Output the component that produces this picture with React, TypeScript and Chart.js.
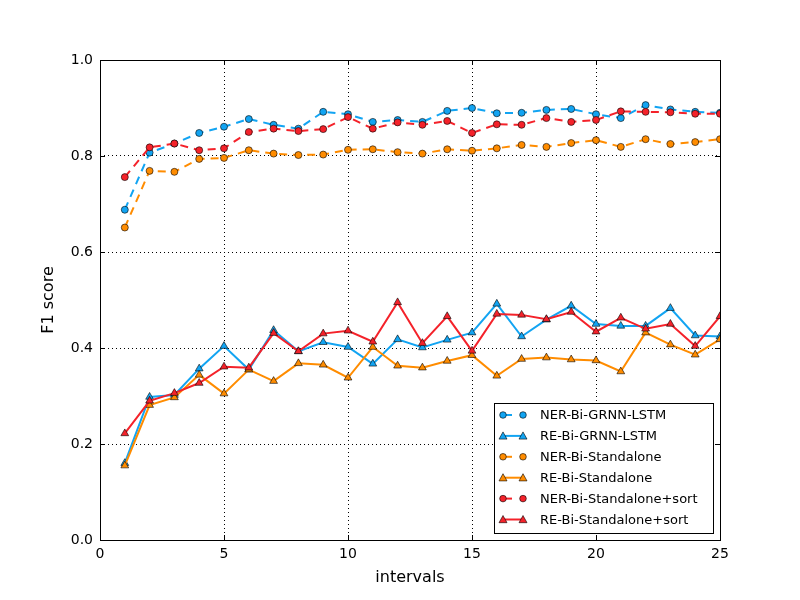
import React, { useEffect, useRef } from "react";
import { Chart, registerables } from "chart.js";
Chart.register(...registerables);

const intervals = [1, 2, 3, 4, 5, 6, 7, 8, 9, 10, 11, 12, 13, 14, 15, 16, 17, 18, 19, 20, 21, 22, 23, 24, 25];
const nerGrnn = [0.688, 0.807, 0.826, 0.848, 0.861, 0.877, 0.865, 0.857, 0.892, 0.887, 0.871, 0.875, 0.871, 0.894, 0.9, 0.889, 0.89, 0.896, 0.898, 0.887, 0.879, 0.906, 0.897, 0.892, 0.89];
const reGrnn = [0.16, 0.298, 0.302, 0.357, 0.404, 0.355, 0.437, 0.393, 0.412, 0.402, 0.367, 0.418, 0.401, 0.417, 0.432, 0.492, 0.424, 0.459, 0.488, 0.45, 0.446, 0.446, 0.483, 0.426, 0.424];
const nerSa = [0.651, 0.769, 0.767, 0.794, 0.796, 0.812, 0.805, 0.802, 0.803, 0.813, 0.814, 0.808, 0.805, 0.814, 0.811, 0.816, 0.823, 0.819, 0.827, 0.833, 0.819, 0.835, 0.825, 0.829, 0.835];
const reSa = [0.155, 0.281, 0.297, 0.344, 0.305, 0.355, 0.331, 0.368, 0.365, 0.338, 0.402, 0.363, 0.359, 0.373, 0.385, 0.342, 0.377, 0.38, 0.376, 0.374, 0.351, 0.432, 0.407, 0.386, 0.418];
const nerSort = [0.756, 0.818, 0.826, 0.812, 0.816, 0.85, 0.857, 0.852, 0.856, 0.881, 0.857, 0.87, 0.865, 0.873, 0.848, 0.866, 0.865, 0.879, 0.871, 0.875, 0.893, 0.892, 0.891, 0.888, 0.888];
const reSort = [0.222, 0.29, 0.306, 0.327, 0.361, 0.359, 0.431, 0.393, 0.43, 0.436, 0.413, 0.495, 0.41, 0.466, 0.394, 0.471, 0.469, 0.46, 0.475, 0.434, 0.463, 0.44, 0.45, 0.404, 0.466];

const seriesNames = [
  "NER-Bi-GRNN-LSTM",
  "RE-Bi-GRNN-LSTM",
  "NER-Bi-Standalone",
  "RE-Bi-Standalone",
  "NER-Bi-Standalone+sort",
  "RE-Bi-Standalone+sort",
];
const seriesValues = [nerGrnn, reGrnn, nerSa, reSa, nerSort, reSort];
const seriesColors = ["#12a4f2", "#12a4f2", "#ff8c00", "#ff8c00", "#f4222a", "#f4222a"];
const xTicks = [0, 5, 10, 15, 20, 25];
const yTicks = [0, 0.2, 0.4, 0.6, 0.8, 1.0];
const xTitle = "intervals";
const yTitle = "F1 score";

const FONT = "'DejaVu Sans', sans-serif";
const DASH = [8, 6];

const framePlugin = {
  id: "frame",
  afterDatasetsDraw(chart: any) {
    const { ctx, chartArea: a, scales } = chart;
    ctx.save();
    ctx.strokeStyle = "#000";
    ctx.lineWidth = 1;
    ctx.setLineDash([]);
    const tl = 5;
    ctx.beginPath();
    xTicks.forEach((t) => {
      const x = Math.round(scales.x.getPixelForValue(t)) + 0.5;
      ctx.moveTo(x, a.bottom);
      ctx.lineTo(x, a.bottom - tl);
      ctx.moveTo(x, a.top);
      ctx.lineTo(x, a.top + tl);
    });
    yTicks.forEach((t) => {
      const y = Math.round(scales.y.getPixelForValue(t)) + 0.5;
      ctx.moveTo(a.left, y);
      ctx.lineTo(a.left + tl, y);
      ctx.moveTo(a.right, y);
      ctx.lineTo(a.right - tl, y);
    });
    ctx.stroke();
    ctx.strokeRect(Math.round(a.left) + 0.5, Math.round(a.top) + 0.5, Math.round(a.right - a.left), Math.round(a.bottom - a.top));
    // axis titles
    ctx.fillStyle = "#000";
    ctx.font = `16px ${FONT}`;
    ctx.textAlign = "center";
    ctx.textBaseline = "middle";
    ctx.fillText(xTitle, (a.left + a.right) / 2, 578);
    ctx.save();
    ctx.translate(49, (a.top + a.bottom) / 2);
    ctx.rotate(-Math.PI / 2);
    ctx.fillText(yTitle, 0, 0);
    ctx.restore();
    ctx.restore();
  },
  afterDraw(chart: any) {
    const { ctx } = chart;
    ctx.save();
    const bx = 494.5, by = 403.5, bw = 219, bh = 130;
    ctx.fillStyle = "#fff";
    ctx.fillRect(bx, by, bw, bh);
    ctx.strokeStyle = "#000";
    ctx.lineWidth = 1;
    ctx.setLineDash([]);
    ctx.strokeRect(bx, by, bw, bh);
    const rowY0 = 415;
    const rowStep = 20.9;
    ctx.font = `13px ${FONT}`;
    ctx.textBaseline = "middle";
    ctx.textAlign = "left";
    seriesNames.forEach((name, i) => {
      const y = rowY0 + i * rowStep;
      const col = seriesColors[i];
      const isNer = i % 2 === 0;
      ctx.strokeStyle = col;
      ctx.lineWidth = 2;
      if (isNer) {
        ctx.setLineDash([]);
        ctx.beginPath();
        ctx.moveTo(503, y);
        ctx.lineTo(512, y);
        ctx.stroke();
      } else {
        ctx.setLineDash([]);
        ctx.beginPath();
        ctx.moveTo(503, y);
        ctx.lineTo(523, y);
        ctx.stroke();
      }
      ctx.setLineDash([]);
      [503, 523].forEach((mx) => {
        ctx.fillStyle = col;
        ctx.strokeStyle = "rgba(0,0,0,0.85)";
        ctx.lineWidth = 0.7;
        ctx.beginPath();
        if (isNer) {
          ctx.arc(mx, y, 3.3, 0, Math.PI * 2);
        } else {
          const r = 4;
          ctx.moveTo(mx, y - r);
          ctx.lineTo(mx + r, y + r * 0.8);
          ctx.lineTo(mx - r, y + r * 0.8);
          ctx.closePath();
        }
        ctx.fill();
        ctx.stroke();
      });
      ctx.fillStyle = "#000";
      ctx.fillText(name, 540, y + 1);
    });
    ctx.restore();
  },
};

export default function App() {
  const ref = useRef<HTMLCanvasElement | null>(null);
  useEffect(() => {
    if (!ref.current) return;
    const datasets = seriesNames.map((name, i) => {
      const isNer = i % 2 === 0;
      return {
        label: name,
        data: intervals.map((x, j) => ({ x, y: seriesValues[i][j] })),
        borderColor: seriesColors[i],
        backgroundColor: seriesColors[i],
        borderWidth: 2,
        borderDash: isNer ? DASH : [],
        pointStyle: isNer ? "circle" : "triangle",
        pointRadius: isNer ? 3.5 : 4.5,
        pointBorderColor: "rgba(0,0,0,0.85)",
        pointBorderWidth: 0.7,
        pointBackgroundColor: seriesColors[i],
        tension: 0,
        fill: false,
        order: 6 - i,
      };
    });
    const chart = new Chart(ref.current, {
      type: "line",
      data: { datasets },
      options: {
        animation: false,
        responsive: false,
        maintainAspectRatio: false,
        devicePixelRatio: 1,
        layout: { padding: { top: 60, right: 80, left: 0, bottom: 0 } },
        plugins: { legend: { display: false }, tooltip: { enabled: false } },
        scales: {
          x: {
            type: "linear",
            min: 0,
            max: 25,
            afterFit: (s: any) => { s.height = 60; },
            afterBuildTicks: (s: any) => { s.ticks = xTicks.map((v) => ({ value: v })); },
            grid: { color: "#000", lineWidth: 1, drawTicks: false, tickBorderDash: [], borderDash: [1, 3] } as any,
            border: { display: false, dash: [1, 3] },
            ticks: { color: "#000", font: { family: FONT, size: 14 }, padding: 6, maxRotation: 0, callback: (v: any) => String(v) },
          },
          y: {
            type: "linear",
            min: 0,
            max: 1,
            afterFit: (s: any) => { s.width = 100; },
            afterBuildTicks: (s: any) => { s.ticks = yTicks.map((v) => ({ value: v })); },
            grid: { color: "#000", lineWidth: 1, drawTicks: false } as any,
            border: { display: false, dash: [1, 3] },
            ticks: { color: "#000", font: { family: FONT, size: 14 }, padding: 7, callback: (v: any) => Number(v).toFixed(1) },
          },
        },
      },
      plugins: [framePlugin],
    } as any);
    return () => chart.destroy();
  }, []);
  return (
    <div style={{ position: "fixed", left: 0, top: 0, width: 800, height: 600, background: "#fff" }}>
      <canvas ref={ref} width={800} height={600} style={{ width: 800, height: 600 }} />
    </div>
  );
}
